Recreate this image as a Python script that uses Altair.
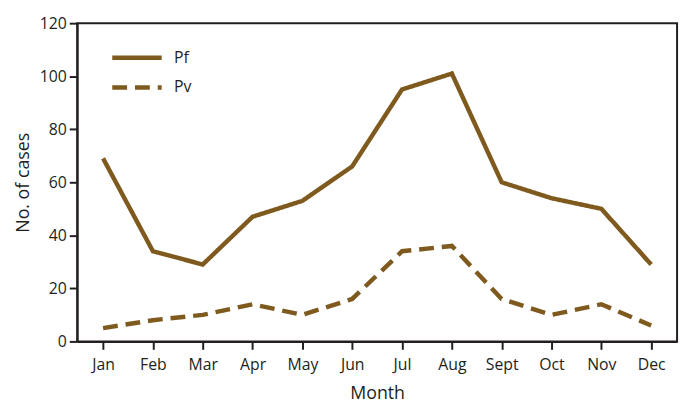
import altair as alt
import pandas as pd

months = ["Jan", "Feb", "Mar", "Apr", "May", "Jun", "Jul", "Aug", "Sept", "Oct", "Nov", "Dec"]
pf = [69, 34, 29, 47, 53, 66, 95, 101, 60, 54, 50, 29]
pv = [5, 8, 10, 14, 10, 16, 34, 36, 16, 10, 14, 6]
series = ["Pf", "Pv"]
y_ticks = [0, 20, 40, 60, 80, 100, 120]

rows = []
for m, a, b in zip(months, pf, pv):
    rows.append({"Month": m, "Species": "Pf", "Cases": a})
    rows.append({"Month": m, "Species": "Pv", "Cases": b})
df = pd.DataFrame(rows)

FONT = "Open Sans"
BROWN = "#7f5a1e"
INK = "#231f20"

chart = alt.Chart(df).mark_line(color=BROWN, strokeWidth=4.5).encode(
    x=alt.X("Month:N", sort=months, scale=alt.Scale(type="point", padding=0.52),
            axis=alt.Axis(title="Month", labelAngle=0, tickSize=8, labelPadding=7,
                          titlePadding=13)),
    y=alt.Y("Cases:Q", scale=alt.Scale(domain=[0, 120], nice=False),
            axis=alt.Axis(title="No. of cases", values=y_ticks, tickSize=8,
                          labelPadding=3, titlePadding=7, grid=False)),
    strokeDash=alt.StrokeDash("Species:N", scale=alt.Scale(domain=series, range=[[1, 0], [15, 8]]),
                              legend=alt.Legend(title=None, orient="none", legendX=33, legendY=25,
                                                symbolType="stroke", symbolSize=2500,
                                                symbolStrokeWidth=4.5, symbolStrokeColor=BROWN,
                                                clipHeight=20,
                                                labelFontSize=16, labelFont=FONT, labelColor=INK,
                                                rowPadding=10, labelOffset=10)),
    detail="Species:N",
).properties(
    width=607, height=322,
    padding={"left": 70, "top": 13, "right": 6, "bottom": 62},
    autosize=alt.AutoSizeParams(type="none"),
).configure_view(
    stroke=INK, strokeWidth=2
).configure_axis(
    domainColor=INK, domainWidth=2, tickColor=INK, tickWidth=2,
    labelFont=FONT, labelFontSize=16, labelColor=INK,
    titleFont=FONT, titleFontSize=18, titleColor=INK, titleFontWeight="normal",
)

chart.save("out.html", embed_options={"renderer": "svg", "actions": False})
